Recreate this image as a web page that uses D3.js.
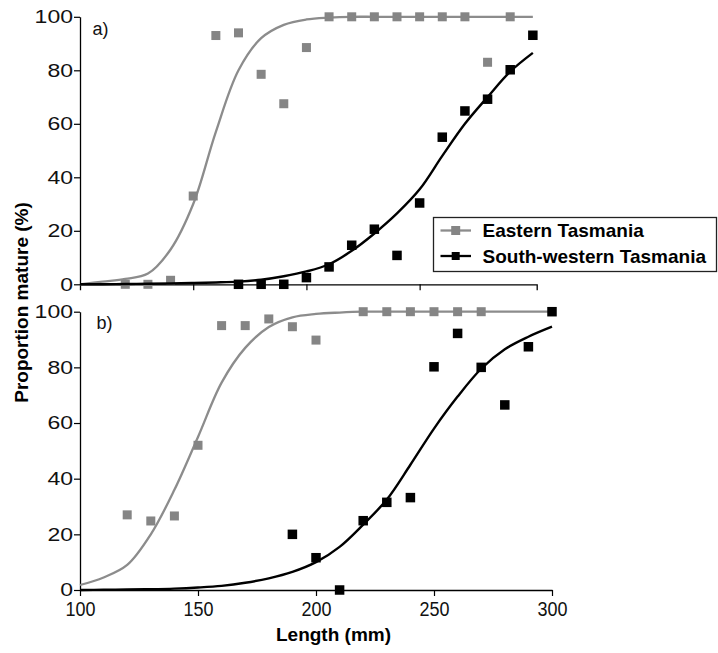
<!DOCTYPE html>
<html>
<head>
<meta charset="utf-8">
<script src="https://cdn.jsdelivr.net/npm/d3@7"></script>
<style>
  html, body { margin: 0; padding: 0; background: #fff; }
  svg { display: block; font-family: "Liberation Sans", Arial, sans-serif; }
</style>
</head>
<body>
<svg id="chart" width="718" height="653"></svg>
<script>
// ---------- data ----------
const lengthTicks = [100, 150, 200, 250, 300];
const topLengthTicks = [150, 200, 250];
const pctTicks = [0, 20, 40, 60, 80, 100];
const seriesNames = ["Eastern Tasmania", "South-western Tasmania"];
const panelLabels = ["a)", "b)"];

// fitted curves, every 10 mm
const fitLen = [100,110,120,130,140,150,160,170,180,190,200,210,220,230,240,250,260,270,280,290,300];
const eastA_fit = [0,1,2,4,13,30,57,80,92,97,99,99.7,100,100,100,100,100,100,100,100,100];
const westA_fit = [0,0,0.1,0.2,0.3,0.5,0.7,1,1.7,3,4.8,7.5,12.5,19,26.5,35.5,48,60,70,79.5,86.5];
const eastB_fit = [1.8,4.5,9,20,36,55,74.5,87,94.5,98,99.2,99.7,100,100,100,100,100,100,100,100,100];
const westB_fit = [0,0.1,0.2,0.3,0.5,0.9,1.5,2.6,4.2,6.5,10,15.5,23.5,32.5,45,58,69.5,79.5,86.5,91,94.6];

// observed proportions
const eastA_len = [120,130,140,150,160,170,180,190,200,210,220,230,240,250,260,270,280,290];
const eastA_pct = [0,0,1.5,33,93,94,78.5,67.5,88.5,100,100,100,100,100,100,100,83,100];
const westA_len = [170,180,190,200,210,220,230,240,250,260,270,280,290,300];
const westA_pct = [0,0,0,2.5,6.5,14.6,20.6,10.8,30.4,55,64.8,69.2,80.2,93.1];
const eastB_len = [120,130,140,150,160,170,180,190,200,220,230,240,250,260,270];
const eastB_pct = [27,24.8,26.6,52,95,95,97.4,94.6,89.8,100,100,100,100,100,100];
const westB_len = [190,200,210,220,230,240,250,260,270,280,290,300];
const westB_pct = [20,11.6,0,24.9,31.5,33.2,80.2,92.2,80,66.5,87.4,100];

// ---------- drawing ----------
const svg = d3.select("#chart");
svg.append("rect").attr("width", 718).attr("height", 653).attr("fill", "#fff");

const GRAY = "#858585", GRAY_LINE = "#8c8c8c", BLACK = "#000";
const zip = (xs, ys) => xs.map((x, i) => [x, ys[i]]);

const panels = [
  { label: panelLabels[0], x: d3.scaleLinear().domain([100, 301.7]).range([80, 536.7]),
    y: d3.scaleLinear().domain([0, 100]).range([284.3, 16.8]),
    east: zip(eastA_len, eastA_pct), west: zip(westA_len, westA_pct),
    eastFit: zip(fitLen, eastA_fit), westFit: zip(fitLen, westA_fit),
    xTicks: topLengthTicks, xLabels: false, labelPos: [92.5, 35] },
  { label: panelLabels[1], x: d3.scaleLinear().domain([100, 300]).range([80, 552]),
    y: d3.scaleLinear().domain([0, 100]).range([590, 311.7]),
    east: zip(eastB_len, eastB_pct), west: zip(westB_len, westB_pct),
    eastFit: zip(fitLen, eastB_fit), westFit: zip(fitLen, westB_fit),
    xTicks: lengthTicks, xLabels: true, labelPos: [96.5, 329] }
];

panels.forEach(p => {
  const g = svg.append("g");
  const line = d3.line().x(d => p.x(d[0])).y(d => p.y(d[1])).curve(d3.curveCatmullRom.alpha(0.5));

  // y axis
  const ya = g.append("g").attr("transform", `translate(${p.x.range()[0]},0)`)
    .call(d3.axisLeft(p.y).tickValues(pctTicks).tickSize(6).tickSizeOuter(0).tickPadding(1));
  ya.selectAll("text")
    .attr("font-size", 18.5).attr("fill", "#111")
    .attr("textLength", d => String(d).length * 12.8).attr("lengthAdjust", "spacingAndGlyphs");

  // x axis
  const xa = g.append("g").attr("transform", `translate(0,${p.y(0)})`)
    .call(d3.axisBottom(p.x).tickValues(p.xTicks).tickSize(6).tickSizeOuter(p.xLabels ? 0 : 6)
      .tickFormat(p.xLabels ? d3.format("d") : () => ""));
  xa.selectAll("text")
    .attr("font-size", 20.5).attr("fill", "#111").attr("dy", "0.78em").attr("y", 10)
    .attr("textLength", d => String(d).length * 10).attr("lengthAdjust", "spacingAndGlyphs");

  [ya, xa].forEach(a => {
    a.select(".domain").attr("stroke", "#000").attr("stroke-width", 1.3);
    a.selectAll(".tick line").attr("stroke", "#000").attr("stroke-width", 1.2);
  });

  // fitted curves
  g.append("path").datum(p.eastFit).attr("d", line)
    .attr("fill", "none").attr("stroke", GRAY_LINE).attr("stroke-width", 2.3);
  g.selectAll(".mE").data(p.east).join("rect")
    .attr("x", d => p.x(d[0]) - 4.5).attr("y", d => p.y(d[1]) - 4.5)
    .attr("width", 9).attr("height", 9).attr("fill", GRAY);

  g.append("path").datum(p.westFit).attr("d", line)
    .attr("fill", "none").attr("stroke", BLACK).attr("stroke-width", 2.4);
  g.selectAll(".mW").data(p.west).join("rect")
    .attr("x", d => p.x(d[0]) - 4.75).attr("y", d => p.y(d[1]) - 4.75)
    .attr("width", 9.5).attr("height", 9.5).attr("fill", BLACK);

  // panel label
  g.append("text").attr("x", p.labelPos[0]).attr("y", p.labelPos[1])
    .attr("font-size", 18).attr("fill", "#111").text(p.label);
});

// axis titles
svg.append("text")
  .attr("transform", "translate(27.5,302.5) rotate(-90)")
  .attr("text-anchor", "middle").attr("font-size", 19).attr("font-weight", "bold")
  .attr("fill", "#000").text("Proportion mature (%)");
svg.append("text")
  .attr("x", 333.5).attr("y", 641).attr("text-anchor", "middle")
  .attr("font-size", 19).attr("font-weight", "bold").attr("fill", "#000")
  .text("Length (mm)");

// legend
const lg = svg.append("g");
lg.append("rect").attr("x", 433.5).attr("y", 217.5).attr("width", 283).attr("height", 54)
  .attr("fill", "#fff").attr("stroke", "#222").attr("stroke-width", 1.3);
const legendItems = [
  { name: seriesNames[0], color: GRAY, line: GRAY_LINE, size: 9, y: 230.5 },
  { name: seriesNames[1], color: BLACK, line: BLACK, size: 8, y: 256 }
];
legendItems.forEach(it => {
  lg.append("line").attr("x1", 440.5).attr("x2", 471).attr("y1", it.y).attr("y2", it.y)
    .attr("stroke", it.line).attr("stroke-width", 2.3);
  lg.append("rect").attr("x", 455.7 - it.size / 2).attr("y", it.y - it.size / 2)
    .attr("width", it.size).attr("height", it.size).attr("fill", it.color);
  lg.append("text").attr("x", 482.5).attr("y", it.y + 6.5)
    .attr("font-size", 19).attr("font-weight", "bold").attr("fill", "#000").text(it.name);
});
</script>
</body>
</html>
